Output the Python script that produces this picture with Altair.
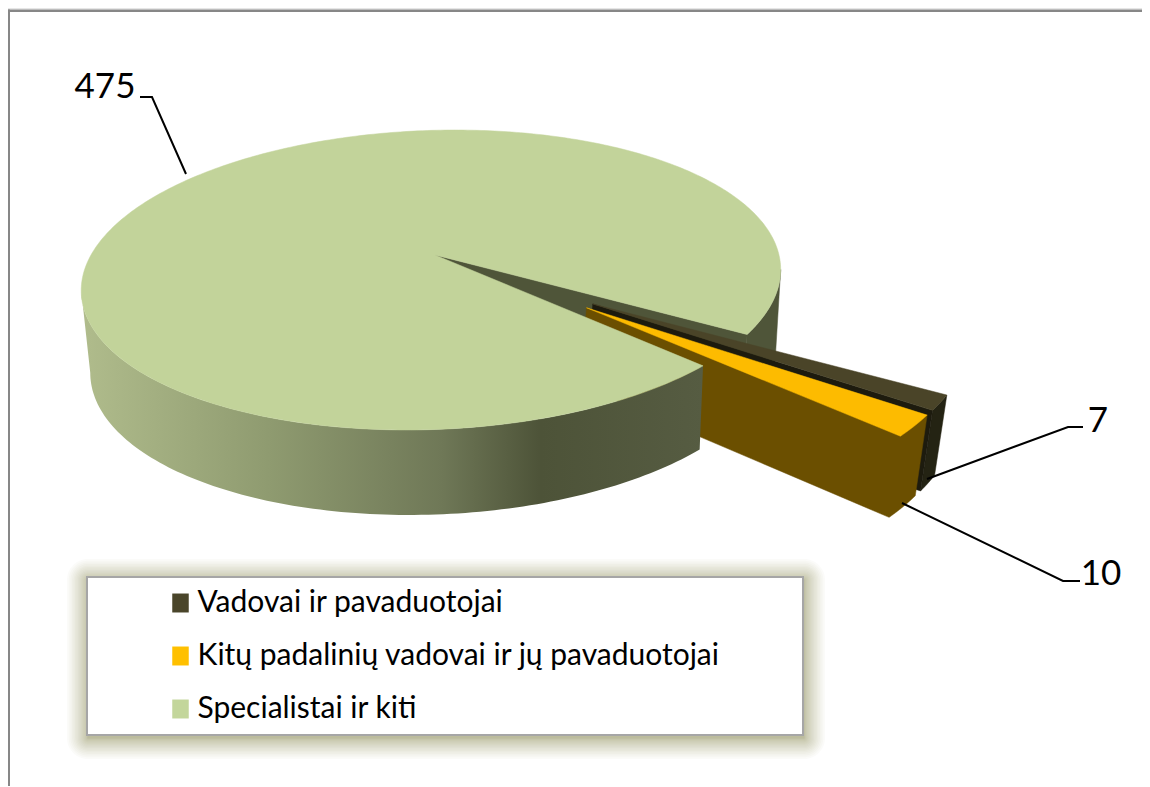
import numpy as np
import pandas as pd
import altair as alt

# data
categories = ["Vadovai ir pavaduotojai", "Kitų padalinių vadovai ir jų pavaduotojai", "Specialistai ir kiti"]
values = [7, 10, 475]
colors = ["#4a452a", "#ffc000", "#c3d69b"]

# pie geometry (projection of a tilted disc)
START = -30.0
CX, CY_TOP = 433.0, 255.0
CX_BOT, CY_BOT = 435.0, 336.5
A, B, K, E, F = 344.0, 145.8, 0.1667, 24.0, 2.0
SX_BOT, SY_BOT = 0.98, 1.02
EXPLODE = 0.556
SLICE_R = 1.02
SLICE_BOT_SHIFT = (-4.0, -4.0)
W, H = 1134, 778

total = sum(values)
sweeps = [v / total * 360.0 for v in values]
a0 = START
a1 = a0 - sweeps[0]
a2 = a1 - sweeps[1]
a3 = a2 - sweeps[2]


def proj(X, Y, bottom=False):
    w = 1 + K * Y
    dx = (A * X + E * Y + F) / w
    dy = -B * Y / w
    if bottom:
        return CX_BOT + SX_BOT * dx, CY_BOT + SY_BOT * dy
    return CX + dx, CY_TOP + dy


def rim(a_from, a_to, off=(0, 0), bottom=False, n=120, r=1.0, shift=(0.0, 0.0)):
    t = np.radians(np.linspace(a_from, a_to, n))
    x, y = proj(off[0] + r * np.cos(t), off[1] + r * np.sin(t), bottom)
    return list(zip((x + shift[0]).tolist(), (y + shift[1]).tolist()))


def pt(off, bottom=False, shift=(0.0, 0.0)):
    x, y = proj(np.array(off[0]), np.array(off[1]), bottom)
    return [(float(x) + shift[0], float(y) + shift[1])]


def extreme_angle(lo, hi, rightmost, bottom=False):
    t = np.linspace(lo, hi, 1441)
    x, _ = proj(np.cos(np.radians(t)), np.sin(np.radians(t)), bottom)
    return float(t[np.argmax(x) if rightmost else np.argmin(x)])


x_scale = alt.Scale(domain=[8, 8 + W], nice=False, zero=False)
y_scale = alt.Scale(domain=[8 + H, 8], nice=False, zero=False)
X = alt.X("x:Q", scale=x_scale, axis=None)
Y = alt.Y("y:Q", scale=y_scale, axis=None)


def poly(points, fill):
    df = pd.DataFrame(points, columns=["x", "y"])
    df["i"] = range(len(df))
    stroke = fill if isinstance(fill, str) else "#7a8360"
    sw = 0.5 if isinstance(fill, str) else 0
    return alt.Chart(df).mark_line(
        interpolate="linear-closed", fill=fill, stroke=stroke, strokeWidth=sw
    ).encode(x=X, y=Y, order="i:Q")


def path(points, width=2, color="#000000"):
    df = pd.DataFrame(points, columns=["x", "y"])
    df["i"] = range(len(df))
    return alt.Chart(df).mark_line(stroke=color, strokeWidth=width).encode(x=X, y=Y, order="i:Q")


def rect(x0, y0, x1, y1, **kw):
    df = pd.DataFrame({"x": [x0], "x2": [x1], "y": [y0], "y2": [y1]})
    return alt.Chart(df).mark_rect(**kw).encode(x=X, x2="x2:Q", y=Y, y2="y2:Q")


layers = []

# hidden carrier of the real legend
legend_df = pd.DataFrame({"x": [431.0] * 3, "y": [300.0] * 3, "cat": categories})
legend = alt.Legend(
    orient="none", legendX=157.5, legendY=580, title=None, padding=0,
    symbolType="M-1,-1.15H1V1.15H-1Z", symbolSize=272, symbolStrokeWidth=0, symbolOpacity=1,
    labelFont="Lato", labelFontSize=30, labelColor="#000000", labelLimit=800, labelOffset=2,
    rowPadding=23,
)
layers.append(
    alt.Chart(legend_df).mark_square(size=1, opacity=1).encode(
        x=X, y=Y,
        color=alt.Color("cat:N", scale=alt.Scale(domain=categories, range=colors), legend=legend, sort=None),
    )
)

# page frame
layers.append(rect(8, 8, 8 + W, 9.5, color="#e6e6e6"))
layers.append(rect(8, 9.5, 8 + W, 12, color="#878787"))
layers.append(rect(8, 9.5, 10, 8 + H, color="#878787"))

DARK_WALL = "#4f5539"
# back rim wall and the notch wall of the big slice
right_top = extreme_angle(-40, 20, True)
right_bot = extreme_angle(-40, 20, True, True)
layers.append(poly(rim(right_top, a0) + rim(a0, right_bot, bottom=True), DARK_WALL))
layers.append(poly(pt((0, 0)) + rim(a0, a0, n=1) + rim(a0, a0, bottom=True, n=1) + pt((0, 0), True), DARK_WALL))

# exploded slice 1
m = np.radians((a0 + a1) / 2 - 2.3)
o1 = (EXPLODE * np.cos(m), EXPLODE * np.sin(m))
S = SLICE_BOT_SHIFT
layers.append(poly(rim(a0, a1, o1, r=SLICE_R) + rim(a1, a0, o1, True, r=SLICE_R, shift=S), "#242313"))
layers.append(poly(pt(o1) + rim(a1, a1, o1, n=1, r=SLICE_R) + rim(a1, a1, o1, True, n=1, r=SLICE_R, shift=S) + pt(o1, True, shift=S), "#1d1b0e"))
layers.append(poly(pt(o1) + rim(a0, a1, o1, r=SLICE_R), "#4a4428"))

# exploded slice 2
m = np.radians((a1 + a2) / 2 + 0.9)
o2 = (EXPLODE * np.cos(m), EXPLODE * np.sin(m))
layers.append(poly(pt(o2) + rim(a2, a1, o2, r=SLICE_R) + rim(a1, a2, o2, True, r=SLICE_R, shift=S) + pt(o2, True, shift=S), "#6b4f00"))
layers.append(poly(pt(o2) + rim(a1, a2, o2, r=SLICE_R), "#fdbb00"))

# big slice wall with the gradient and top face
wall = alt.Gradient(
    gradient="linear", x1=0, x2=1, y1=0, y2=0,
    stops=[
        alt.GradientStop(color="#b0bc8c", offset=0),
        alt.GradientStop(color="#8f9b70", offset=0.3),
        alt.GradientStop(color="#6f7857", offset=0.58),
        alt.GradientStop(color="#4d5338", offset=0.74),
        alt.GradientStop(color="#565c42", offset=1),
    ],
)
left_top = extreme_angle(-230, -130, False)
left_bot = extreme_angle(-230, -130, False, True)
layers.append(poly(rim(a2, left_top) + rim(left_bot, a2, bottom=True), wall))
layers.append(poly(pt((0, 0)) + rim(a2, a3, n=400), "#c2d39a"))

# leader lines
layers.append(path([(140, 97), (152, 97), (186, 174)]))
layers.append(path([(1083, 427), (1068, 427), (927, 479)]))
layers.append(path([(1080, 581), (1063, 581), (902, 503)]))

# value labels
lab = pd.DataFrame({"x": [105.0, 1098.0, 1101.0], "y": [87.0, 421.0, 574.0], "t": [str(v) for v in [values[2], values[0], values[1]]]})
layers.append(alt.Chart(lab).mark_text(font="Lato", fontSize=35, color="#000000", align="center", baseline="middle").encode(x=X, y=Y, text="t:N"))

# legend box with soft shadow, drawn beneath the legend items
shadow = []
n_sh = 20
for k in range(n_sh, 0, -1):
    i = 21 * (k / n_sh) ** 1.7
    shadow.append(rect(87 - i + 1, 577 - i + 3, 803 + i + 1, 735 + i + 3, color="#727d4e", opacity=0.03, cornerRadius=i))
box = rect(87, 577, 803, 735, color="#ffffff", stroke="#a6a6a6", strokeWidth=2)

chart = alt.layer(*layers, *shadow, box).properties(
    width=W, height=H, padding=0, autosize=alt.AutoSizeParams(type="none"), background="#ffffff"
).configure_view(stroke=None)

chart.save("out.html", embed_options={"renderer": "svg", "actions": False})
